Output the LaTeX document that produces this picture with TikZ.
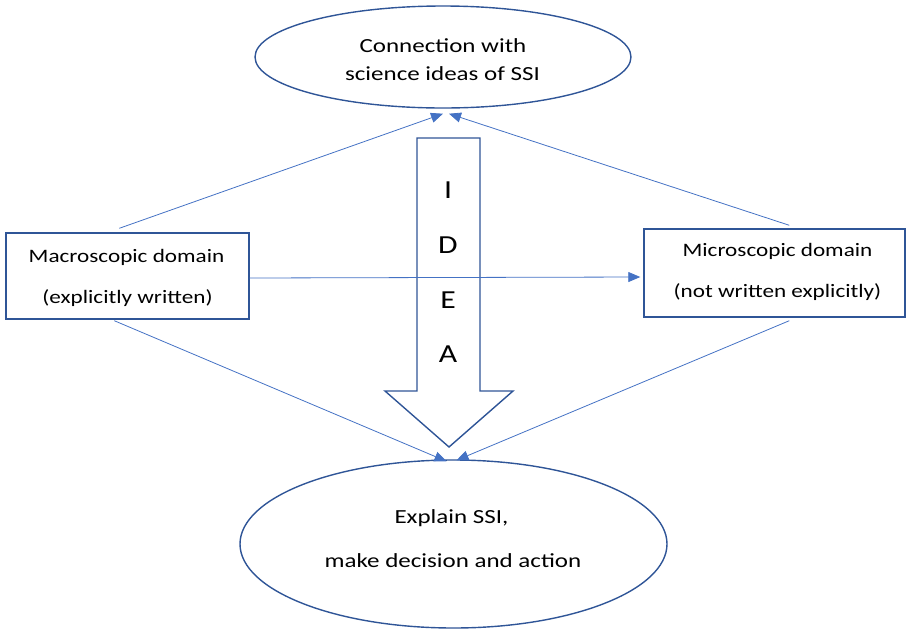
\documentclass[tikz,border=0pt]{standalone}
\usepackage{fontspec}
\setmainfont{Carlito}
\usetikzlibrary{shapes.geometric,arrows.meta,calc}
\definecolor{darkline}{RGB}{47,85,151}
\definecolor{connblue}{RGB}{68,114,196}
\newcommand{\sx}[1]{\scalebox{1.22}[1]{#1}}
\newcommand{\sxe}[1]{\scalebox{1.25}[1]{#1}}
\begin{document}
\begin{tikzpicture}[x=1pt,y=-1pt,
  shapeline/.style={draw=darkline,line width=1.4pt},
  boxnode/.style={shapeline,rectangle,inner sep=0pt},
  ellnode/.style={shapeline,ellipse,inner sep=0pt},
  txt/.style={anchor=base,inner sep=0pt,font=\fontsize{19}{22}\selectfont,text=black},
  etxt/.style={anchor=base,inner sep=0pt,font=\fontsize{20}{24}\selectfont,text=black},
  letter/.style={anchor=base,inner sep=0pt,font=\fontsize{26}{30}\selectfont,text=black},
  conn/.style={draw=connblue,line width=0.8pt,-{Triangle[length=12pt,width=10pt]}}]
\useasboundingbox (0,0) rectangle (906,630);
% shapes
\node[ellnode,minimum width=376pt,minimum height=102pt] (top) at (443,57) {};
\node[ellnode,minimum width=427pt,minimum height=168pt] (bot) at (453.5,544) {};
\node[boxnode,minimum width=243pt,minimum height=86pt] (left) at (127.5,276) {};
\node[boxnode,minimum width=261pt,minimum height=88pt] (right) at (774.5,273) {};
% big IDEA arrow
\draw[shapeline,line join=miter] (417,138) -- (480,138) -- (480,391) -- (513,391)
  -- (449,447) -- (385,391) -- (417,391) -- cycle;
% texts
\node[etxt] (t1) at (443,52) {\sxe{Connection with}};
\node[etxt] (t2) at (442.5,80) {\sxe{science ideas of SSI}};
\node[txt] (l1) at (126.5,262) {\sx{Macroscopic domain}};
\node[txt] (l2) at (127.5,303) {\sx{(explicitly written)}};
\node[txt] (r1) at (777.5,256) {\sx{Microscopic domain}};
\node[txt] (r2) at (777.5,297) {\sx{(not written explicitly)}};
\node[etxt] (b1) at (451.5,523) {\sxe{Explain SSI,}};
\node[etxt] (b2) at (453,567) {\sxe{make decision and action}};
\node[letter] (i1) at (448,198) {\sx{I}};
\node[letter] (i2) at (448,253) {\sx{D}};
\node[letter] (i3) at (448,308) {\sx{E}};
\node[letter] (i4) at (448,362) {\sx{A}};
% connectors
\draw[conn] ($(left.north west)+(114,-4)$) -- ($(top.south)+(0,5)$);
\draw[conn] ($(right.north west)+(146,-3)$) -- ($(top.south)+(6,5)$);
\draw[conn] ($(left.east)+(0,2)$) -- ($(right.west)+(-3,4)$);
\draw[conn] ($(left.south west)+(109,1)$) -- ($(bot.north)+(-7,2)$);
\draw[conn] ($(right.south west)+(146,3)$) -- ($(bot.north)+(3,1)$);
\end{tikzpicture}
\end{document}
